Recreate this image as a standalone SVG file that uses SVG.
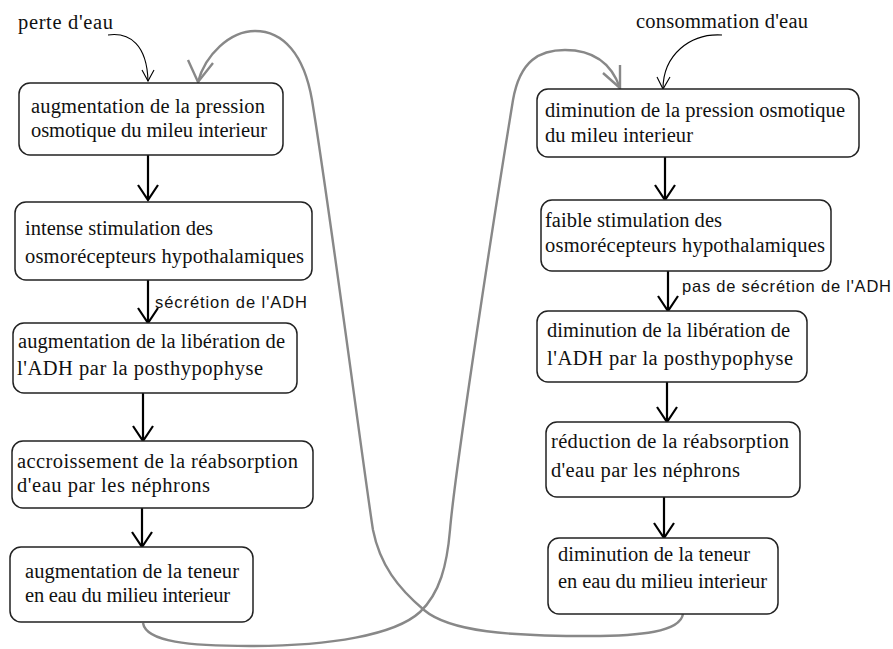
<svg xmlns="http://www.w3.org/2000/svg" width="893" height="649" viewBox="0 0 893 649">
<style>
.box{fill:#fff;stroke:#222;stroke-width:1.5}
.t{font-family:"Liberation Serif","Times New Roman",serif;font-size:20.5px;fill:#111}
.s{font-family:"Liberation Sans",Arial,sans-serif;font-size:16.5px;fill:#111}
.ar{fill:none;stroke:#000;stroke-width:2.2}
.thin{fill:none;stroke:#000;stroke-width:1.1}
.gray{fill:none;stroke:#888;stroke-width:2.4}
</style>
<rect width="893" height="649" fill="#fff"/>
<g id="connectors">
  <path class="gray" d="M143,623 C146,642 190,646 250,646 C330,646 395,635 420,612 C440,593 447,565 450,530 C455,470 495,210 513,100 C520,60 540,50 565,50 C595,50 612,65 620,88"/>
  <polyline class="gray" points="620,65 620,88 603,73"/>
  <path class="gray" d="M683,614 C680,632 640,636 590,636 C510,636 450,632 424,610 C398,588 380,565 373,530 C365,480 330,210 312,100 C304,54 283,31 255,31 C230,31 205,55 198,82"/>
  <polyline class="gray" points="188,60 198,82 213,63"/>
  <path class="thin" d="M108,35 C130,32 147,45 148,81"/>
  <polyline class="thin" points="142,70 148,81 154,70"/>
  <path class="thin" d="M722,35 C690,33 663,55 663,89"/>
  <polyline class="thin" points="657,77 663,89 670,77"/>
  <path class="ar" d="M148,155 V200 M138,185 L148,200 L158,185"/>
  <path class="ar" d="M148,280 V323 M138,308 L148,323 L158,308"/>
  <path class="ar" d="M143,393 V441 M133,426 L143,441 L153,426"/>
  <path class="ar" d="M142,508 V547 M132,532 L142,547 L152,532"/>
  <path class="ar" d="M665,157 V200 M655,185 L665,200 L675,185"/>
  <path class="ar" d="M668,271 V311 M658,296 L668,311 L678,296"/>
  <path class="ar" d="M667,382 V422 M657,407 L667,422 L677,407"/>
  <path class="ar" d="M664,497 V538 M654,523 L664,538 L674,523"/>
  <text class="s" x="155" y="308" textLength="152" lengthAdjust="spacing">sécrétion  de l'ADH</text>
  <text class="s" x="682" y="292" textLength="209" lengthAdjust="spacing">pas de sécrétion de l'ADH</text>
</g>
<g id="label-perte">
  <text class="t" x="18" y="29" textLength="95" lengthAdjust="spacing">perte d'eau</text>
</g>
<g id="label-consommation">
  <text class="t" x="636" y="28" textLength="172" lengthAdjust="spacing">consommation d'eau</text>
</g>
<g id="L1">
  <rect class="box" x="19" y="83" width="264" height="72" rx="11"/>
  <text class="t" x="31" y="113" textLength="234" lengthAdjust="spacing">augmentation de la pression</text>
  <text class="t" x="31" y="137" textLength="236" lengthAdjust="spacing">osmotique  du mileu interieur</text>
</g>
<g id="L2">
  <rect class="box" x="15" y="202" width="297" height="78" rx="11"/>
  <text class="t" x="25" y="235" textLength="188" lengthAdjust="spacing">intense stimulation des</text>
  <text class="t" x="25" y="263" textLength="279" lengthAdjust="spacing">osmorécepteurs hypothalamiques</text>
</g>
<g id="L3">
  <rect class="box" x="13" y="323" width="284" height="70" rx="11"/>
  <text class="t" x="18" y="348" textLength="267" lengthAdjust="spacing">augmentation de la libération de</text>
  <text class="t" x="17" y="375" textLength="246" lengthAdjust="spacing">l'ADH par la posthypophyse</text>
</g>
<g id="L4">
  <rect class="box" x="12" y="441" width="301" height="67" rx="11"/>
  <text class="t" x="17" y="468" textLength="281" lengthAdjust="spacing">accroissement de la réabsorption</text>
  <text class="t" x="17" y="492" textLength="193" lengthAdjust="spacing">d'eau par les néphrons</text>
</g>
<g id="L5">
  <rect class="box" x="10" y="547" width="243" height="75" rx="11"/>
  <text class="t" x="25" y="578" textLength="214" lengthAdjust="spacing">augmentation de la teneur</text>
  <text class="t" x="25" y="602" textLength="205" lengthAdjust="spacing">en eau du milieu interieur</text>
</g>
<g id="R1">
  <rect class="box" x="537" y="89" width="322" height="68" rx="11"/>
  <text class="t" x="545" y="117" textLength="300" lengthAdjust="spacing">diminution de la pression osmotique</text>
  <text class="t" x="545" y="142" textLength="148" lengthAdjust="spacing">du mileu interieur</text>
</g>
<g id="R2">
  <rect class="box" x="541" y="200" width="290" height="71" rx="11"/>
  <text class="t" x="545" y="227" textLength="177" lengthAdjust="spacing">faible stimulation des</text>
  <text class="t" x="545" y="252" textLength="280" lengthAdjust="spacing">osmorécepteurs hypothalamiques</text>
</g>
<g id="R3">
  <rect class="box" x="537" y="311" width="270" height="71" rx="11"/>
  <text class="t" x="547" y="337" textLength="243" lengthAdjust="spacing">diminution  de la libération de</text>
  <text class="t" x="547" y="365" textLength="246" lengthAdjust="spacing">l'ADH par la posthypophyse</text>
</g>
<g id="R4">
  <rect class="box" x="546" y="422" width="254" height="75" rx="11"/>
  <text class="t" x="551" y="448" textLength="238" lengthAdjust="spacing">réduction de la réabsorption</text>
  <text class="t" x="551" y="477" textLength="189" lengthAdjust="spacing">d'eau par les néphrons</text>
</g>
<g id="R5">
  <rect class="box" x="548" y="538" width="230" height="76" rx="11"/>
  <text class="t" x="558" y="561" textLength="192" lengthAdjust="spacing">diminution de la teneur</text>
  <text class="t" x="558" y="588" textLength="209" lengthAdjust="spacing">en eau du milieu interieur</text>
</g>
</svg>
